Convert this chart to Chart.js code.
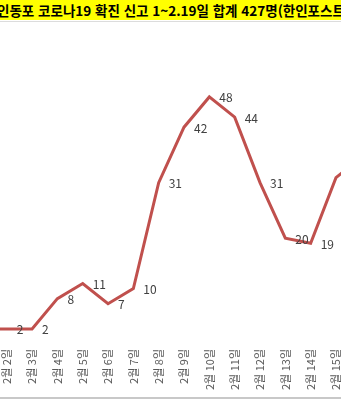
<!DOCTYPE html>
<html lang="ko">
<head>
<meta charset="utf-8">
<title>인니 한인동포 코로나19 확진 신고</title>
<script src="https://cdn.jsdelivr.net/npm/chart.js@4/dist/chart.umd.min.js"></script>
<style>
  html, body { margin: 0; padding: 0; background: #fff; }
  body { width: 341px; height: 400px; overflow: hidden; position: relative; }
  #title {
    position: absolute; left: -3px; top: 0; height: 20px; width: 420px;
    background: #ffff00; white-space: nowrap;
    font: bold 13.5px "Noto Sans CJK KR", sans-serif; line-height: 20px; color: #000;
    z-index: 2;
  }
  #titleBg { position: absolute; left: 0; top: 0; width: 341px; height: 20px; background: #ffff00; z-index: 1; }
  #rowLine { position: absolute; left: 0; top: 21px; width: 341px; height: 1px; background: #dcdcdc; }
  #bottomLine { position: absolute; left: 0; top: 397px; width: 341px; height: 2px; background: #c8c8c8; }
  #wrap { position: absolute; left: -40px; top: 0; width: 440px; height: 400px; }
</style>
</head>
<body>
<div id="titleBg"></div>
<div id="title">인동포 코로나19 확진 신고 1~2.19일 합계 427명(한인포스트)</div>
<div id="rowLine"></div>
<div id="wrap"><canvas id="trendChart" width="440" height="400"></canvas></div>
<div id="bottomLine"></div>
<script>
const days = ["2월 1일", "2월 2일", "2월 3일", "2월 4일", "2월 5일", "2월 6일", "2월 7일", "2월 8일",
  "2월 9일", "2월 10일", "2월 11일", "2월 12일", "2월 13일", "2월 14일", "2월 15일", "2월 16일"];
const cases = [2, 2, 2, 8, 11, 7, 10, 31, 42, 48, 44, 31, 20, 19, 32, 36];

const lineColor = "#c0504d";
const labelFont = "'Noto Sans CJK KR', sans-serif";

// draws the value next to each point, like the excel data labels
const pointLabels = {
  id: "pointLabels",
  afterDatasetsDraw(chart) {
    const ctx = chart.ctx;
    const meta = chart.getDatasetMeta(0);
    ctx.save();
    ctx.font = "12px " + labelFont;
    ctx.fillStyle = "#404040";
    ctx.textAlign = "left";
    ctx.textBaseline = "middle";
    meta.data.forEach((pt, i) => {
      ctx.fillText(String(cases[i]), pt.x + 10, pt.y + 1);
    });
    ctx.restore();
  },
};

new Chart(document.getElementById("trendChart"), {
  type: "line",
  data: {
    labels: days,
    datasets: [
      {
        label: "확진",
        data: cases,
        borderColor: lineColor,
        borderWidth: 3,
        pointRadius: 0,
        tension: 0,
        fill: false,
      },
    ],
  },
  options: {
    responsive: false,
    animation: false,
    layout: { padding: { left: 21.4, right: 38.7, top: 36.4, bottom: 0 } },
    plugins: {
      legend: { display: false },
      tooltip: { enabled: false },
    },
    scales: {
      x: {
        offset: false,
        border: { display: false },
        grid: { display: false, drawTicks: false },
        ticks: {
          minRotation: 90,
          maxRotation: 90,
          autoSkip: false,
          padding: 10,
          color: "#595959",
          font: { family: labelFont, size: 11 },
        },
        afterFit: (s) => { s.height = 61; },
      },
      y: {
        display: false,
        min: 0,
        max: 60,
      },
    },
  },
  plugins: [pointLabels],
});
</script>
</body>
</html>
